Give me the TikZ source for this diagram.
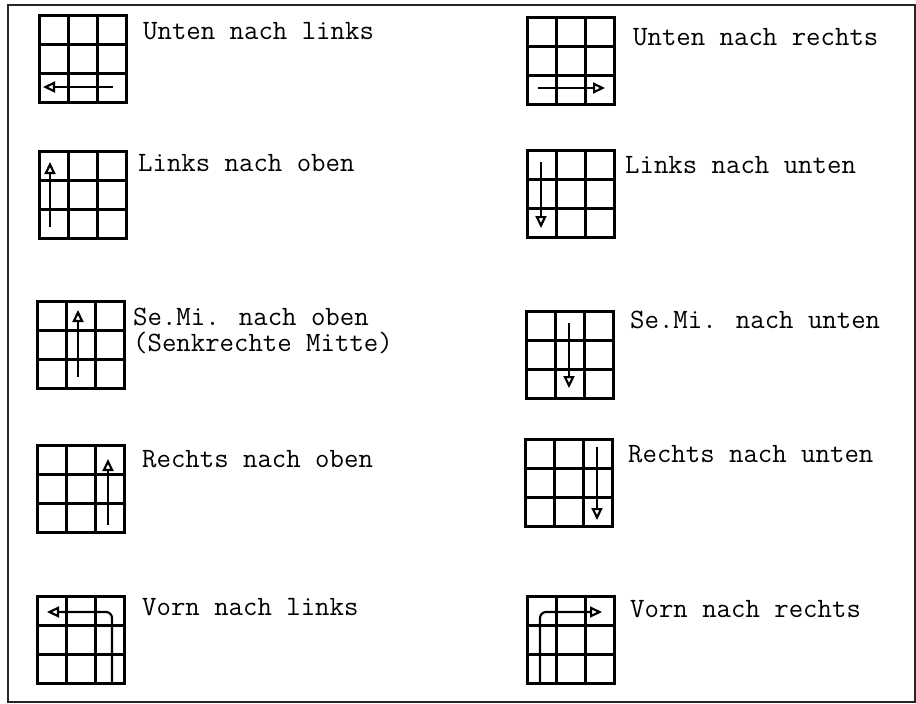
\documentclass[tikz,border=0pt]{standalone}
\usepackage{fontspec}
\usepackage{tikz}
\usetikzlibrary{arrows.meta}
\tikzset{
  rahmen/.style={line width=1.5pt, draw=black!85},
  gitter/.style={line width=3pt, line cap=rect},
  pfeil/.style={-{Triangle[open, length=12pt, width=11pt, line width=2.2pt]},
                line width=2.2pt},
  bahn/.style={pfeil, rounded corners=6pt},
  txt/.style={anchor=base west, inner sep=0pt,
              font=\fontsize{28}{34}\selectfont\ttfamily},
  feld/.pic={
    \foreach \k in {0,1,2,3}{
      \draw[gitter] (\k*29,0) -- (\k*29,87);
      \draw[gitter] (0,\k*29) -- (87,\k*29);
    }
  },
}

\begin{document}
\begin{tikzpicture}[x=1pt, y=-1pt]
  \useasboundingbox (0,0) rectangle (916,704);
  \draw[rahmen] (8,5) rectangle (915,702);

  % linke Spalte
  \begin{scope}[shift={(39,15)}]
    \pic {feld};
    \draw[pfeil] (74,72) -- (4,72);
  \end{scope}
  \node[txt] (t1) at (143,39) {Unten nach links};

  \begin{scope}[shift={(39,151)}]
    \pic {feld};
    \draw[pfeil] (11,76) -- (11,11);
  \end{scope}
  \node[txt] (t3) at (138,171) {Links nach oben};

  \begin{scope}[shift={(37,301)}]
    \pic {feld};
    \draw[pfeil] (41,76) -- (41,9);
  \end{scope}
  \node[txt] (t5) at (133,325) {Se.Mi. nach oben};
  \node[txt] (t5b) at (133,351) {(Senkrechte Mitte)};

  \begin{scope}[shift={(37,445)}]
    \pic {feld};
    \draw[pfeil] (71,80) -- (71,14);
  \end{scope}
  \node[txt] (t7) at (142,467) {Rechts nach oben};

  \begin{scope}[shift={(37,596)}]
    \pic {feld};
    \draw[bahn] (75,87) -- (75,16) -- (10,16);
  \end{scope}
  \node[txt] (t9) at (142,615) {Vorn nach links};

  % rechte Spalte
  \begin{scope}[shift={(527,17)}]
    \pic {feld};
    \draw[pfeil] (11,71) -- (78,71);
  \end{scope}
  \node[txt] (t2) at (633,45) {Unten nach rechts};

  \begin{scope}[shift={(527,150)}]
    \pic {feld};
    \draw[pfeil] (14,12) -- (14,78);
  \end{scope}
  \node[txt] (t4) at (625,173) {Links nach unten};

  \begin{scope}[shift={(526,311)}]
    \pic {feld};
    \draw[pfeil] (43,12) -- (43,77);
  \end{scope}
  \node[txt] (t6) at (630,328) {Se.Mi. nach unten};

  \begin{scope}[shift={(525,439)}]
    \pic {feld};
    \draw[pfeil] (72,8) -- (72,81);
  \end{scope}
  \node[txt] (t8) at (628,462) {Rechts nach unten};

  \begin{scope}[shift={(527,596)}]
    \pic {feld};
    \draw[bahn] (13,87) -- (13,16) -- (75,16);
  \end{scope}
  \node[txt] (t10) at (630,617) {Vorn nach rechts};
\end{tikzpicture}
\end{document}
